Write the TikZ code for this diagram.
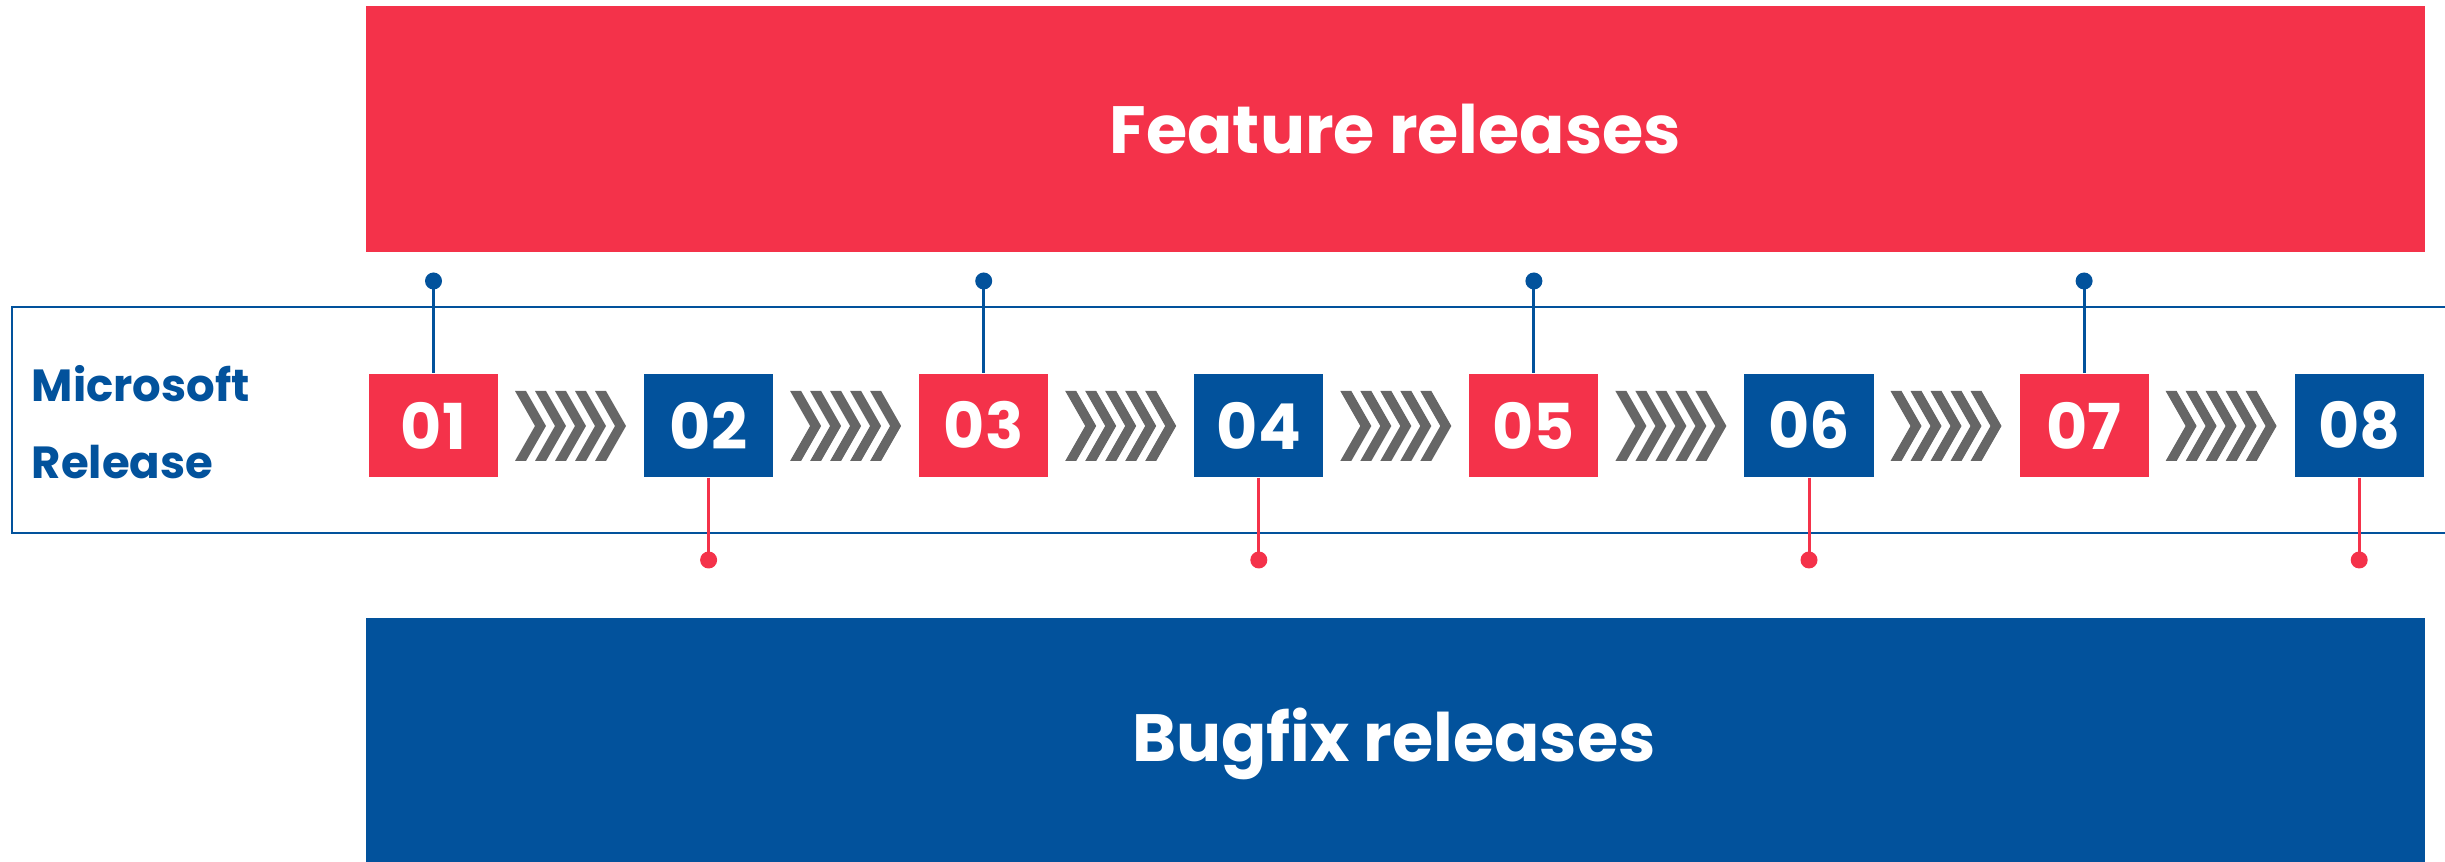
\documentclass[tikz,border=0pt]{standalone}
\usepackage{fontspec}
\setmainfont{Poppins}
\definecolor{fr}{HTML}{F4324A}
\definecolor{fb}{HTML}{02529C}
\definecolor{chev}{HTML}{666666}
\begin{document}
\begin{tikzpicture}[x=0.01cm,y=-0.01cm,
  banner/.style={anchor=north west, inner sep=0pt, minimum width=20.58cm, text=white, font=\fontsize{19}{22}\selectfont\bfseries},
  numbox/.style={inner sep=0pt, minimum width=1.29cm, minimum height=1.03cm, text=white, font=\fontsize{18}{20}\selectfont\bfseries},
  pin/.style={circle, inner sep=0pt, minimum size=0.17cm},
  stem/.style={line width=0.03cm},
  frameline/.style={draw=fb, line width=0.02cm},
  sidelabel/.style={anchor=base west, inner sep=0pt, text=fb, font=\fontsize{12.8}{15}\selectfont\bfseries}
]
\useasboundingbox (0,0) rectangle (2445,862);
% banners
\node[banner, fill=fr, minimum height=2.46cm] (feat) at (365,5) {Feature releases};
\node[banner, fill=fb, minimum height=2.55cm] (bug) at (365,617) {};
\node[text=white, font=\fontsize{19}{22}\selectfont\bfseries] (bugtxt) at (1394,744) {Bugfix releases};
% frame
\draw[frameline] (2460,307.5) -- (12,307.5) -- (12,533.5) -- (2460,533.5);
\node[sidelabel] (ms) at (31,402) {Microsoft};
\node[sidelabel] (rel) at (31,479) {Release};
% boxes
\foreach \i/\c in {1/fr,2/fb,3/fr,4/fb,5/fr,6/fb,7/fr,8/fb}{
  \node[numbox, fill=\c] (b\i) at ({433.5+275.1*(\i-1)},425.5) {0\i};
}
% chevrons
\foreach \i in {1,...,7}{
  \foreach \j in {0,...,4}{
    \fill[chev] ({515+275.1*(\i-1)+20*\j},391) -- ++(11,0) -- ++(20,35) -- ++(-20,35) -- ++(-11,0) -- ++(20,-35) -- cycle;
  }
}
% pins
\foreach \i in {1,3,5,7}{
  \node[pin, fill=fb] (p\i) at ({433.5+275.1*(\i-1)},281) {};
  \draw[stem, fb] (p\i.center) -- (b\i.north);
}
\foreach \i in {2,4,6,8}{
  \node[pin, fill=fr] (p\i) at ({433.5+275.1*(\i-1)},560) {};
  \draw[stem, fr] (b\i.south) -- (p\i.center);
}
\end{tikzpicture}
\end{document}
